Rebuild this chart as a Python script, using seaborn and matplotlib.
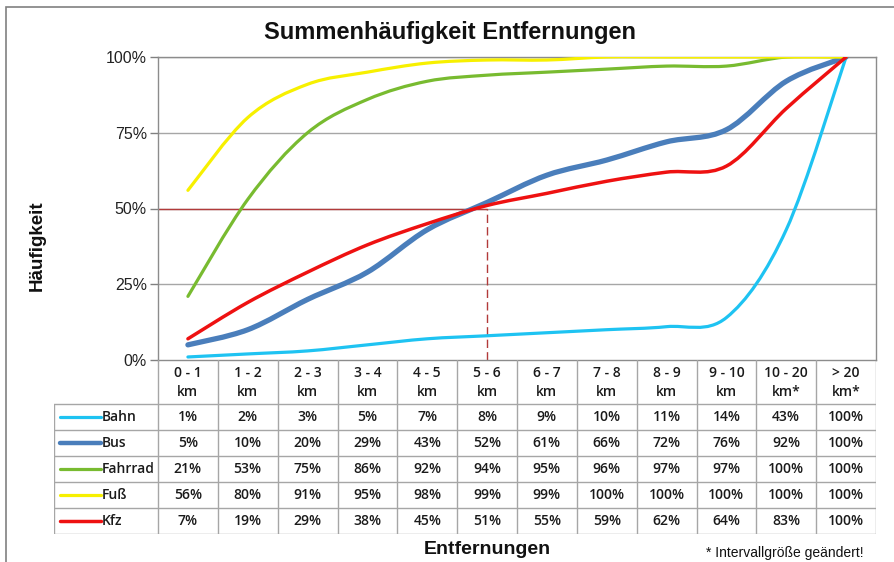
import numpy as np
import seaborn as sns
import matplotlib.pyplot as plt
from matplotlib.path import Path
from matplotlib.patches import PathPatch, Rectangle

# categories and cumulative shares (percent) per mode of transport
categories = ['0 - 1\nkm', '1 - 2\nkm', '2 - 3\nkm', '3 - 4\nkm', '4 - 5\nkm', '5 - 6\nkm',
              '6 - 7\nkm', '7 - 8\nkm', '8 - 9\nkm', '9 - 10\nkm', '10 - 20\nkm*', '> 20\nkm*']
bahn = [1, 2, 3, 5, 7, 8, 9, 10, 11, 14, 43, 100]
bus = [5, 10, 20, 29, 43, 52, 61, 66, 72, 76, 92, 100]
fahrrad = [21, 53, 75, 86, 92, 94, 95, 96, 97, 97, 100, 100]
fuss = [56, 80, 91, 95, 98, 99, 99, 100, 100, 100, 100, 100]
kfz = [7, 19, 29, 38, 45, 51, 55, 59, 62, 64, 83, 100]

series_names = ['Bahn', 'Bus', 'Fahrrad', 'Fuß', 'Kfz']
series_values = [bahn, bus, fahrrad, fuss, kfz]
colors = ['#1ec3f2', '#4a7ebb', '#78bb30', '#f7f000', '#ee1111']
widths = [2.3, 3.8, 2.3, 2.3, 2.5]

median_cat = 5  # 5 - 6 km, where ~50% is reached

sns.set_theme(style='white')
plt.rcParams['font.family'] = ['Liberation Sans', 'DejaVu Sans']

W, H = 894, 562
fig = plt.figure(figsize=(W / 100, H / 100), dpi=100)


def px_axes(x0, y0, x1, y1):
    # axes from pixel box (top-left origin)
    return fig.add_axes([x0 / W, 1 - y1 / H, (x1 - x0) / W, (y1 - y0) / H])


# outer chart border
fig.patches.append(Rectangle((6 / W, -0.1), 1.2, 1 - 7 / H + 0.1, transform=fig.transFigure,
                             fill=False, edgecolor='#808080', linewidth=1.2))

ax = px_axes(158, 57, 876, 360)
n = len(categories)
xs = np.arange(n)


def smooth_path(x, y):
    # excel-like smoothed line: bezier segments through the data points
    pts = np.column_stack([x, y]).astype(float)
    verts = [pts[0]]
    codes = [Path.MOVETO]
    for i in range(len(pts) - 1):
        p0 = pts[i - 1] if i > 0 else pts[i]
        p1 = pts[i]
        p2 = pts[i + 1]
        p3 = pts[i + 2] if i + 2 < len(pts) else pts[i + 1]
        verts += [p1 + (p2 - p0) / 6, p2 - (p3 - p1) / 6, p2]
        codes += [Path.CURVE4] * 3
    return Path(verts, codes)


# grid
for g in [25, 50, 75, 100]:
    ax.axhline(g, color='#a6a6a6', linewidth=1, zorder=1)
ax.plot([-0.5, median_cat], [50, 50], color='#b23a3a', linewidth=1, zorder=2)
ax.plot([median_cat, median_cat], [0, 50], color='#b23a3a', linewidth=1,
        linestyle=(0, (6, 3)), zorder=2)

for name, vals, c, lw in zip(series_names, series_values, colors, widths):
    ax.add_patch(PathPatch(smooth_path(xs, vals), facecolor='none', edgecolor=c,
                           linewidth=lw, capstyle='round', joinstyle='round', zorder=3))

ax.set_xlim(-0.5, n - 0.5)
ax.set_ylim(0, 100)
ax.set_yticks([0, 25, 50, 75, 100])
ax.set_yticklabels(['0%', '25%', '50%', '75%', '100%'], fontsize=11.5, color='#222222')
ax.set_xticks([])
ax.tick_params(axis='y', left=True, length=6, width=1, color='#808080', pad=2)
for s in ax.spines.values():
    s.set_color('#8c8c8c')
    s.set_linewidth(1)

fig.text(450 / W, 1 - 33 / H, 'Summenhäufigkeit Entfernungen', fontsize=17,
         fontweight='bold', ha='center', va='center', color='#111111')
fig.text(37 / W, 1 - 246 / H, 'Häufigkeit', fontsize=13.5, fontweight='bold',
         rotation=90, ha='center', va='center', color='#111111')
fig.text(487 / W, 1 - 550 / H, 'Entfernungen', fontsize=14, fontweight='bold',
         ha='center', va='center', color='#111111')
fig.text(706 / W, 1 - 553 / H, '* Intervallgröße geändert!', fontsize=10,
         ha='left', va='center', color='#111111')

# data table below the plot
tx0, tx1, ty0, ty1 = 54, 876, 360, 534
tab = px_axes(tx0, ty0, tx1, ty1)
unit = (876 - 158) / n
xl = -0.5 - (158 - tx0) / unit
tab.set_xlim(xl, n - 0.5)
tab.set_ylim(ty1 - ty0, 0)
tab.axis('off')
head = 44
rowh = 26
gc = '#a6a6a6'
tfont = ['Open Sans', 'DejaVu Sans']
tsize = 10
tw = 'semibold'
tcol = '#1a1a1a'
tab.plot([-0.5, -0.5], [0, head + 5 * rowh], color=gc, lw=1)
for i in range(n):
    tab.plot([i + 0.5, i + 0.5], [0, head + 5 * rowh], color=gc, lw=1)
    lab1, lab2 = categories[i].split('\n')
    tab.text(i, 13, lab1, ha='center', va='center', fontsize=tsize, family=tfont,
             weight=tw, color=tcol)
    tab.text(i, 32, lab2, ha='center', va='center', fontsize=tsize, family=tfont,
             weight=tw, color=tcol)
tab.plot([xl, xl], [head, head + 5 * rowh], color=gc, lw=1)
for r in range(6):
    tab.plot([xl, n - 0.5], [head + r * rowh, head + r * rowh], color=gc, lw=1)
for r, (name, vals, c, lw) in enumerate(zip(series_names, series_values, colors, widths)):
    yc = head + r * rowh + rowh / 2
    sw0 = xl + 6 / unit
    tab.plot([sw0, sw0 + 41 / unit], [yc, yc], color=c, lw=min(lw, 3.2), solid_capstyle='round')
    tab.text(sw0 + 42 / unit, yc, name, ha='left', va='center', fontsize=tsize, family=tfont,
             weight=tw, color=tcol)
    for i, v in enumerate(vals):
        tab.text(i, yc, f'{v}%', ha='center', va='center', fontsize=tsize, family=tfont,
                 weight=tw, color=tcol)

fig.savefig('out.png', dpi=100)
